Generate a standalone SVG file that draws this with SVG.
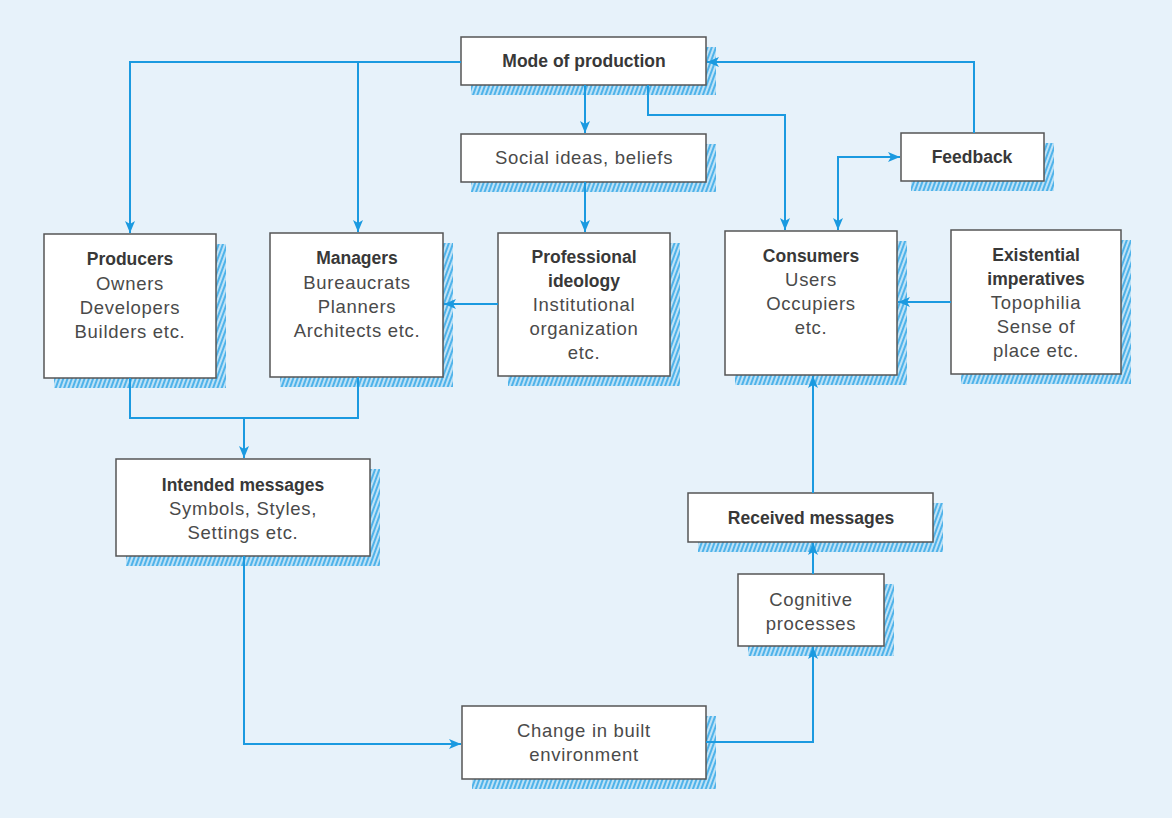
<svg xmlns="http://www.w3.org/2000/svg" width="1172" height="818" viewBox="0 0 1172 818">
<defs>
<pattern id="hatch" width="4" height="4" patternUnits="userSpaceOnUse" patternTransform="rotate(20)">
<rect width="4" height="4" fill="#bfe2f6"/>
<rect width="2" height="4" fill="#4fb3ea"/>
</pattern>
<marker id="ah" viewBox="0 0 12 10" refX="12" refY="5" markerWidth="12" markerHeight="10" orient="auto-start-reverse" markerUnits="userSpaceOnUse">
<path d="M0,0 L12,5 L0,10 L3,5 Z" fill="#1b9ae0"/>
</marker>
<style>
.box{fill:#ffffff;stroke:#555;stroke-width:1.5}
.sh{fill:url(#hatch)}
.b{font-family:"Liberation Sans Narrow","Liberation Sans",Arial,sans-serif;font-weight:bold;font-size:17.5px;fill:#383838;text-anchor:middle}
.r{font-family:"Liberation Sans",Arial,sans-serif;font-size:18.5px;fill:#4a4a4a;text-anchor:middle;letter-spacing:0.7px}
.c{fill:none;stroke:#1b9ae0;stroke-width:2}
</style>
</defs>
<rect width="1172" height="818" fill="#e7f2fa"/>
<g id="mode">
<rect class="sh" x="471" y="47" width="245" height="48"/>
<rect class="box" x="461" y="37" width="245" height="48"/>
<text class="b" x="584" y="67">Mode of production</text>
</g>
<g id="social">
<rect class="sh" x="471" y="144" width="245" height="48"/>
<rect class="box" x="461" y="134" width="245" height="48"/>
<text class="r" x="584" y="164">Social ideas, beliefs</text>
</g>
<g id="feedback">
<rect class="sh" x="911" y="143" width="143" height="48"/>
<rect class="box" x="901" y="133" width="143" height="48"/>
<text class="b" x="972" y="163">Feedback</text>
</g>
<g id="producers">
<rect class="sh" x="54" y="244" width="172" height="144"/>
<rect class="box" x="44" y="234" width="172" height="144"/>
<text class="b" x="130" y="265">Producers</text>
<text class="r" x="130" y="290">Owners</text>
<text class="r" x="130" y="314">Developers</text>
<text class="r" x="130" y="338">Builders etc.</text>
</g>
<g id="managers">
<rect class="sh" x="280" y="243" width="173" height="144"/>
<rect class="box" x="270" y="233" width="173" height="144"/>
<text class="b" x="357" y="264">Managers</text>
<text class="r" x="357" y="289">Bureaucrats</text>
<text class="r" x="357" y="313">Planners</text>
<text class="r" x="357" y="337">Architects etc.</text>
</g>
<g id="professional">
<rect class="sh" x="508" y="243" width="172" height="143"/>
<rect class="box" x="498" y="233" width="172" height="143"/>
<text class="b" x="584" y="263">Professional</text>
<text class="b" x="584" y="287">ideology</text>
<text class="r" x="584" y="311">Institutional</text>
<text class="r" x="584" y="335">organization</text>
<text class="r" x="584" y="359">etc.</text>
</g>
<g id="consumers">
<rect class="sh" x="735" y="241" width="172" height="144"/>
<rect class="box" x="725" y="231" width="172" height="144"/>
<text class="b" x="811" y="262">Consumers</text>
<text class="r" x="811" y="286">Users</text>
<text class="r" x="811" y="310">Occupiers</text>
<text class="r" x="811" y="334">etc.</text>
</g>
<g id="existential">
<rect class="sh" x="961" y="240" width="170" height="144"/>
<rect class="box" x="951" y="230" width="170" height="144"/>
<text class="b" x="1036" y="261">Existential</text>
<text class="b" x="1036" y="285">imperatives</text>
<text class="r" x="1036" y="309">Topophilia</text>
<text class="r" x="1036" y="333">Sense of</text>
<text class="r" x="1036" y="357">place etc.</text>
</g>
<g id="intended">
<rect class="sh" x="126" y="469" width="254" height="97"/>
<rect class="box" x="116" y="459" width="254" height="97"/>
<text class="b" x="243" y="491">Intended messages</text>
<text class="r" x="243" y="515">Symbols, Styles,</text>
<text class="r" x="243" y="539">Settings etc.</text>
</g>
<g id="received">
<rect class="sh" x="698" y="503" width="245" height="49"/>
<rect class="box" x="688" y="493" width="245" height="49"/>
<text class="b" x="811" y="524">Received messages</text>
</g>
<g id="cognitive">
<rect class="sh" x="748" y="584" width="146" height="72"/>
<rect class="box" x="738" y="574" width="146" height="72"/>
<text class="r" x="811" y="606">Cognitive</text>
<text class="r" x="811" y="630">processes</text>
</g>
<g id="change">
<rect class="sh" x="472" y="716" width="244" height="73"/>
<rect class="box" x="462" y="706" width="244" height="73"/>
<text class="r" x="584" y="737">Change in built</text>
<text class="r" x="584" y="761">environment</text>
</g>
<g id="connectors">
<path class="c" d="M461,62 H130 V233" marker-end="url(#ah)"/>
<path class="c" d="M358,62 V232" marker-end="url(#ah)"/>
<path class="c" d="M585,85 V133" marker-end="url(#ah)"/>
<path class="c" d="M648,85 V115 H785 V230" marker-end="url(#ah)"/>
<path class="c" d="M974,133 V62 H707" marker-end="url(#ah)"/>
<path class="c" d="M838,230 V157 H900" marker-start="url(#ah)" marker-end="url(#ah)"/>
<path class="c" d="M585,182 V232" marker-end="url(#ah)"/>
<path class="c" d="M498,304 H444" marker-end="url(#ah)"/>
<path class="c" d="M951,302 H898" marker-end="url(#ah)"/>
<path class="c" d="M130,378 V418 H358 V377"/>
<path class="c" d="M244,418 V458" marker-end="url(#ah)"/>
<path class="c" d="M244,556 V744 H461" marker-end="url(#ah)"/>
<path class="c" d="M706,742 H813 V647" marker-end="url(#ah)"/>
<path class="c" d="M813,574 V543" marker-end="url(#ah)"/>
<path class="c" d="M813,493 V376" marker-end="url(#ah)"/>
</g>
</svg>
